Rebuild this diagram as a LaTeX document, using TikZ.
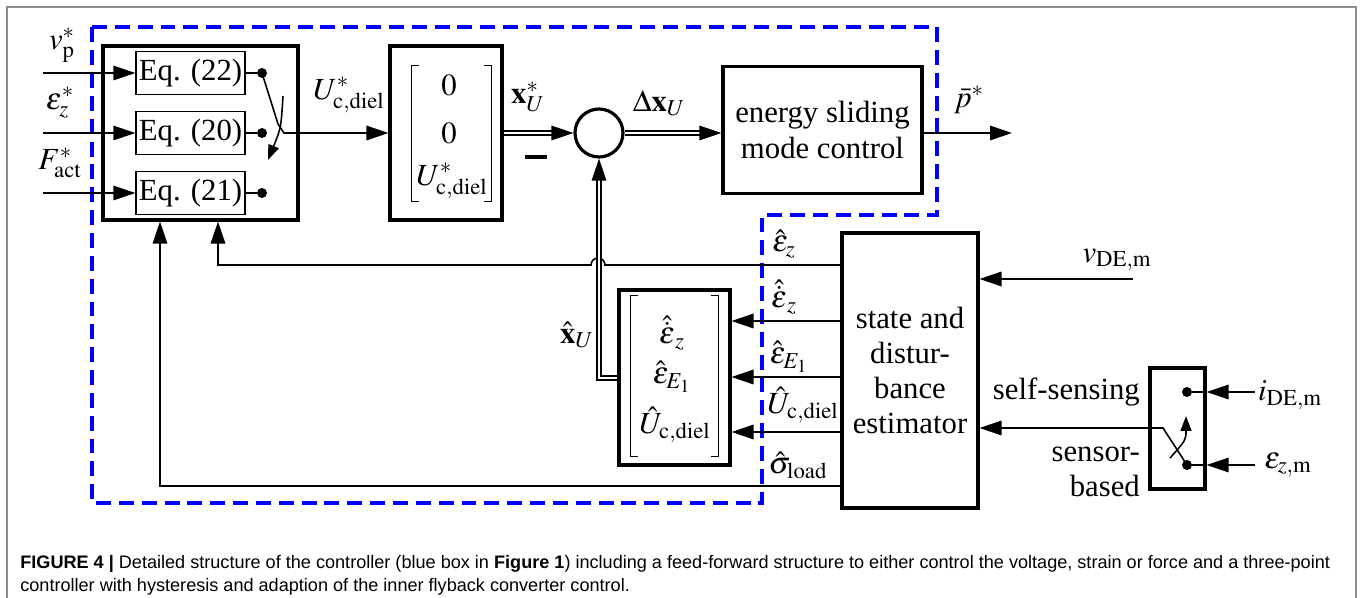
\documentclass[tikz,border=0pt]{standalone}
\usepackage{mathptmx}
\usepackage{fontspec}
\setmainfont{Liberation Serif}
\newfontfamily\capfont{Liberation Sans}
\usetikzlibrary{calc,arrows.meta}
\tikzset{
	blk/.style={draw=black,line width=1.8pt,inner sep=0pt},
	eqblk/.style={draw=black,line width=0.8pt,inner sep=0pt,minimum width=2.18cm,minimum height=0.86cm},
	conn/.style={draw=black,line width=0.9pt},
	dconn/.style={draw=black,line width=0.8pt,double=white,double distance=1.4pt},
	arr/.style={-{Triangle[length=0.44cm,width=0.29cm]}},
	smallarr/.style={-{Triangle[length=0.3cm,width=0.22cm]}},
	swdot/.style={circle,fill=black,inner sep=0pt,minimum size=0.2cm},
	brk/.style={draw=black,line width=0.6pt},
	ctrlbox/.style={draw=blue,line width=2.3pt,dash pattern=on 8.5pt off 4.5pt}
}

\begin{document}
\begin{tikzpicture}[x=0.02cm,y=-0.02cm,font=\fontsize{17.5}{20}\selectfont]
	\useasboundingbox (0,0) rectangle (1363,598);
	\draw[black!45,line width=0.8pt] (7,598) -- (7,7) -- (1356,7) -- (1356,598);
	
	% controller region
	\draw[ctrlbox] (92,27) -- (937,27) -- (937,215) -- (762,215) -- (762,503) -- (92,503) -- cycle;
	
	% feed-forward block
	\node[blk,minimum width=3.9cm,minimum height=3.48cm] (eqbox) at (200.5,133) {};
	\node[eqblk] (eq22) at (190.5,73) {Eq. (22)};
	\node[eqblk] (eq20) at (190.5,133) {Eq. (20)};
	\node[eqblk] (eq21) at (190.5,193) {Eq. (21)};
	\foreach \e in {22,20,21} {
		\node[swdot] (d\e) at (262,0 |- eq\e) {};
		\draw[conn] (eq\e.east) -- (d\e);
		\coordinate (in\e) at (43,0 |- eq\e);
		\draw[conn,arr] (in\e) -- (eq\e.west);
	}
	\node (lvp) at (62,45) {$v^*_\mathrm{p}$};
	\node (lez) at (60,103) {$\varepsilon^*_z$};
	\node (lF) at (60,163) {$F^*_\mathrm{act}$};
	
	% reference vector
	\node[blk,minimum width=2.24cm,minimum height=3.48cm] (mat1) at (446,133) {};
	\draw[brk] ($(mat1.north west)+(31,21)$) -- ($(mat1.north west)+(23,21)$) -- ($(mat1.south west)+(23,-20)$) -- ($(mat1.south west)+(31,-20)$);
	\draw[brk] ($(mat1.north east)+(-20,21)$) -- ($(mat1.north east)+(-12,21)$) -- ($(mat1.south east)+(-12,-20)$) -- ($(mat1.south east)+(-20,-20)$);
	\node (m1a) at (449,85) {$0$};
	\node (m1b) at (449,133) {$0$};
	\node (m1c) at (452,181) {$U^*_\mathrm{c,diel}$};
	
	\coordinate (blade) at (284,133);
	\draw[conn,arr] (d22.center) -- ($(blade)+(-6,-9)$) -- (blade) -- (mat1.west);
	\draw[conn,smallarr] (283,96) .. controls (281,128) .. (268,160);
	\node (lU) at (349,95) {$U^*_\mathrm{c,diel}$};
	
	% error and sliding mode control
	\node[circle,draw,line width=1.8pt,minimum size=0.96cm,inner sep=0pt] (sum) at (599,133) {};
	\node[blk,minimum width=3.98cm,minimum height=2.54cm,align=center,font=\fontsize{17.5}{21}\selectfont] (esmc) at (822.5,130) {energy sliding\\mode control};
	\draw[dconn,arr] (mat1.east) -- (sum.west);
	\node (lx) at (528,97) {$\mathbf{x}^*_U$};
	\node (minus) at (536,157) {\rule{0.44cm}{0.09cm}};
	\draw[dconn,arr] (sum.east) -- (sum.east -| esmc.west);
	\node (ldx) at (659,103) {$\Delta\mathbf{x}_U$};
	\coordinate (pout) at (1012,133);
	\draw[conn,arr] (esmc.east |- pout) -- (pout);
	\node (lp) at (969,100) {$\bar{p}^*$};
	
	% estimator
	\node[blk,minimum width=2.72cm,minimum height=5.5cm,align=center] (est) at (910,370.5) {state and\\distur-\\bance\\estimator};
	\coordinate (vin) at (1133,279);
	\draw[conn,arr] (vin) -- (vin -| est.east);
	\node (lv) at (1117,260) {$v_\mathrm{DE,m}$};
	
	\node[blk,minimum width=2.22cm,minimum height=3.5cm] (mat2) at (674.5,377.5) {};
	\draw[brk] ($(mat2.north west)+(21,7)$) -- ($(mat2.north west)+(13,7)$) -- ($(mat2.south west)+(13,-10)$) -- ($(mat2.south west)+(21,-10)$);
	\draw[brk] ($(mat2.north east)+(-21,7)$) -- ($(mat2.north east)+(-13,7)$) -- ($(mat2.south east)+(-13,-10)$) -- ($(mat2.south east)+(-21,-10)$);
	\node (m2a) at (672,333) {$\hat{\dot{\varepsilon}}_z$};
	\node (m2b) at (672,377) {$\hat{\varepsilon}_{E_1}$};
	\node (m2c) at (675,425) {$\hat{U}_\mathrm{c,diel}$};
	
	% estimator outputs
	\coordinate (oZ) at (est.west |- 0,265);
	\coordinate (oS) at (est.west |- 0,486);
	\draw[conn,arr] (oZ) -- (605,265) arc[start angle=0,end angle=180,radius=0.14cm] -- (218,265) -- (eqbox.south -| 218,0);
	\draw[conn,arr] (oS) -- (160,486) -- (eqbox.south -| 160,0);
	\foreach \y in {321,377,432}
		\draw[conn,arr] (est.west |- 0,\y) -- (mat2.east |- 0,\y);
	\draw[dconn,arr] (mat2.west |- 0,378) -- (sum.south |- 0,378) -- (sum.south);
	\node (lxh) at (577,335) {$\hat{\mathbf{x}}_U$};
	
	\node (lo1) at (784,244) {$\hat{\varepsilon}_z$};
	\node (lo2) at (784,297) {$\hat{\dot{\varepsilon}}_z$};
	\node (lo3) at (789,357) {$\hat{\varepsilon}_{E_1}$};
	\node (lo4) at (803,405) {$\hat{U}_\mathrm{c,diel}$};
	\node (lo5) at (798,465) {$\hat{\sigma}_\mathrm{load}$};
	
	% measurement switch
	\node[blk,minimum width=1.1cm,minimum height=2.42cm] (swbox) at (1177.5,428.5) {};
	\node[swdot] (di) at (1187,392) {};
	\node[swdot] (dz) at (1187,465) {};
	\foreach \d in {di,dz} {
		\coordinate (in\d) at (1255,0 |- \d);
		\draw[conn,arr] (in\d) -- (in\d -| swbox.east);
		\draw[conn] (swbox.east |- \d) -- (\d);
	}
	\node (li) at (1290,395) {$i_\mathrm{DE,m}$};
	\node (lzm) at (1288,465) {$\varepsilon_{z,\mathrm{m}}$};
	\coordinate (blade2) at (1163,428);
	\draw[conn,arr] (dz.center) -- (blade2) -- (blade2 -| est.east);
	\draw[conn,smallarr] (1170,458) .. controls (1186,440) .. (1186,416);
	\node[anchor=east] (lself) at (1146,392) {self-sensing};
	\node[anchor=east,align=right] (lsens) at (1146,472) {sensor-\\based};
	
	% caption
	\node[anchor=north west,inner sep=0pt,align=left,font=\capfont\fontsize{10.3}{13.2}\selectfont] (cap) at (20,555)
	{\textbf{FIGURE 4 |} Detailed structure of the controller (blue box in \textbf{Figure 1}) including a feed-forward structure to either control the voltage, strain or force and a three-point\\controller with hysteresis and adaption of the inner flyback converter control.};
\end{tikzpicture}
\end{document}
